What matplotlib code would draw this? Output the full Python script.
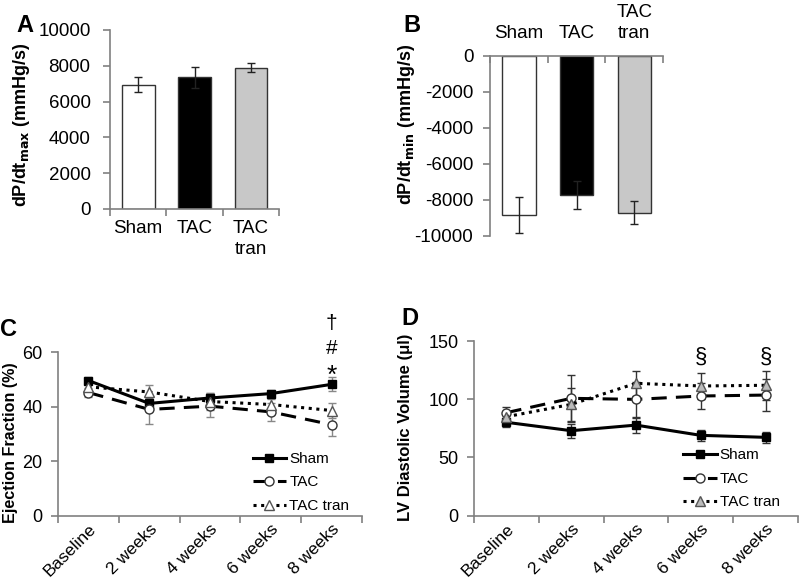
import matplotlib
matplotlib.use("Agg")
import matplotlib.pyplot as plt
from matplotlib.lines import Line2D
import numpy as np

plt.rcParams['font.family'] = ['Liberation Sans', 'DejaVu Sans']

groups = ["Sham", "TAC", "TAC\ntran"]
dpmax = [6950, 7350, 7900]
dpmax_err = [430, 580, 260]
dpmin = [-8850, -7750, -8700]
dpmin_err = [1000, 780, 650]
bar_colors = ["white", "black", "#c8c8c8"]

times = ["Baseline", "2 weeks", "4 weeks", "6 weeks", "8 weeks"]
ef_sham = [49.6, 41.2, 43.2, 44.8, 48.2]
ef_sham_err = [1.2, 2.0, 2.0, 1.5, 2.6]
ef_tac = [45.2, 39.0, 40.2, 38.1, 33.4]
ef_tac_err = [1.8, 5.2, 3.8, 3.4, 4.0]
ef_tran = [47.3, 45.4, 41.9, 40.8, 38.6]
ef_tran_err = [1.5, 2.7, 3.0, 2.0, 2.6]

lv_sham = [80.2, 73.0, 77.8, 69.0, 67.3]
lv_sham_err = [4.0, 6.0, 6.5, 5.0, 5.0]
lv_tac = [88.5, 100.8, 99.9, 102.8, 103.6]
lv_tac_err = [5.0, 20.0, 15.0, 11.5, 13.5]
lv_tran = [85.0, 95.6, 113.7, 111.4, 112.0]
lv_tran_err = [4.0, 14.0, 10.5, 11.0, 12.5]

fig = plt.figure(figsize=(8.0, 5.87), dpi=100)
spine_c = "#808080"

def style(ax, fs, pad):
    for s in ["top", "right"]:
        ax.spines[s].set_visible(False)
    for s in ["left", "bottom"]:
        ax.spines[s].set_color(spine_c)
        ax.spines[s].set_linewidth(1.2)
    ax.tick_params(colors=spine_c, labelcolor="black", labelsize=fs, length=5, width=1.2)
    ax.tick_params(axis="y", pad=pad)

# Panel A
axA = fig.add_axes([0.1375, 0.644, 0.2115, 0.305])
x = np.arange(3)
axA.bar(x, dpmax, width=0.58, color=bar_colors, edgecolor="#333333", linewidth=1.0,
        yerr=dpmax_err, error_kw=dict(ecolor="#222222", elinewidth=1, capsize=3))
axA.set_xlim(-0.5, 2.5)
axA.set_ylim(0, 10000)
axA.set_yticks([0, 2000, 4000, 6000, 8000, 10000])
style(axA, 13.5, 9)
axA.set_xticks([-0.5, 0.5, 1.5, 2.5])
axA.set_xticklabels([])
axA.set_xticks(x, minor=True)
axA.set_xticklabels(groups, minor=True, fontsize=13.5, va="top", linespacing=1.3)
axA.tick_params(axis="x", which="minor", length=0, pad=8)
axA.set_ylabel("dP/dt$_\\mathbf{max}$ (mmHg/s)", fontsize=13, fontweight="bold")
axA.yaxis.set_label_coords(-0.46, 0.47)
fig.text(0.021, 0.957, "A", fontsize=17, fontweight="bold", va="center")

# Panel B
axB = fig.add_axes([0.6125, 0.598, 0.2165, 0.307])
axB.bar(x, dpmin, width=0.58, color=bar_colors, edgecolor="#333333", linewidth=1.0,
        yerr=dpmin_err, error_kw=dict(ecolor="#222222", elinewidth=1, capsize=3))
axB.set_xlim(-0.5, 2.5)
axB.set_ylim(-10000, 0)
axB.set_yticks([-10000, -8000, -6000, -4000, -2000, 0])
axB.set_yticklabels(["-10000", "-8000", "-6000", "-4000", "-2000", "0"])
style(axB, 13.5, 7)
axB.spines["bottom"].set_visible(False)
axB.spines["top"].set_visible(True)
axB.spines["top"].set_color(spine_c)
axB.spines["top"].set_linewidth(1.2)
axB.xaxis.set_ticks_position("top")
axB.set_xticks([-0.5, 0.5, 1.5, 2.5])
axB.set_xticklabels([])
axB.set_xticks(x, minor=True)
axB.set_xticklabels(groups, minor=True, fontsize=13.5, va="bottom", linespacing=1.3)
axB.tick_params(axis="x", which="major", direction="in", length=5, colors=spine_c)
axB.tick_params(axis="x", which="minor", length=0, pad=10)
axB.set_ylabel("dP/dt$_\\mathbf{min}$ (mmHg/s)", fontsize=13, fontweight="bold")
axB.yaxis.set_label_coords(-0.42, 0.62)
fig.text(0.504, 0.957, "B", fontsize=17, fontweight="bold", va="center")

def line_panel(ax, s, se, t, te, r, re, ylim, yticks, errc, tran_fc, leg_anchor):
    xt = np.arange(5)
    sty_s = dict(color="black", lw=2.2, marker="s", ms=6, mfc="black", mec="black")
    sty_t = dict(color="black", lw=2.2, ls=(0, (5, 3)), marker="o", ms=6.5,
                 mfc="white", mec="#333333")
    sty_r = dict(color="black", lw=2.2, ls=(0, (1, 1.5)), marker="^", ms=7,
                 mfc=tran_fc, mec="#555555")
    ax.errorbar(xt, s, yerr=se, ecolor=errc, elinewidth=1, capsize=3, zorder=3, **sty_s)
    ax.errorbar(xt, t, yerr=te, ecolor=errc, elinewidth=1, capsize=3, zorder=3, **sty_t)
    ax.errorbar(xt, r, yerr=re, ecolor=errc, elinewidth=1, capsize=3, zorder=3, **sty_r)
    ax.set_xlim(-0.5, 4.5)
    ax.set_ylim(*ylim)
    ax.set_yticks(yticks)
    style(ax, 13, 6)
    ax.set_xticks(np.arange(-0.5, 5, 1.0))
    ax.set_xticklabels([])
    ax.set_xticks(xt, minor=True)
    ax.set_xticklabels(times, minor=True, rotation=45, ha="right", rotation_mode="anchor",
                       fontsize=12.5)
    ax.tick_params(axis="x", which="minor", length=0, pad=4)
    handles = [Line2D([], [], **sty_s), Line2D([], [], **sty_t), Line2D([], [], **sty_r)]
    ax.legend(handles, ["Sham", "TAC", "TAC tran"], loc="upper left", frameon=False,
              fontsize=11, handlelength=2.2, handletextpad=0.2, labelspacing=0.62,
              borderpad=0, borderaxespad=0, bbox_to_anchor=leg_anchor)
    return ax

axC = fig.add_axes([0.0725, 0.1215, 0.38, 0.2785])
line_panel(axC, ef_sham, ef_sham_err, ef_tac, ef_tac_err, ef_tran, ef_tran_err,
           (0, 60), [0, 20, 40, 60], "#888888", "white", (0.64, 0.39))
axC.set_ylabel("Ejection Fraction (%)", fontsize=11.6, fontweight="bold")
axC.yaxis.set_label_coords(-0.13, 0.445)
axC.text(4, 51.5, "*", ha="center", va="center", fontsize=19, clip_on=False)
axC.text(4, 61.5, "#", ha="center", va="center", fontsize=15, clip_on=False)
axC.text(4, 70.5, "\u2020", ha="center", va="center", fontsize=15, clip_on=False)
fig.text(0.0, 0.438, "C", fontsize=17, fontweight="bold", va="center")

axD = fig.add_axes([0.5925, 0.1215, 0.405, 0.2975])
line_panel(axD, lv_sham, lv_sham_err, lv_tac, lv_tac_err, lv_tran, lv_tran_err,
           (0, 150), [0, 50, 100, 150], "#333333", "#bbbbbb", (0.645, 0.385))
axD.set_ylabel("LV Diastolic Volume (\u03bcl)", fontsize=12.0, fontweight="bold")
axD.yaxis.set_label_coords(-0.188, 0.505)
for xi in [3, 4]:
    axD.text(xi, 136, "\u00a7", ha="center", va="center", fontsize=16)
fig.text(0.502, 0.457, "D", fontsize=17, fontweight="bold", va="center")

fig.savefig("out.png", dpi=100)
